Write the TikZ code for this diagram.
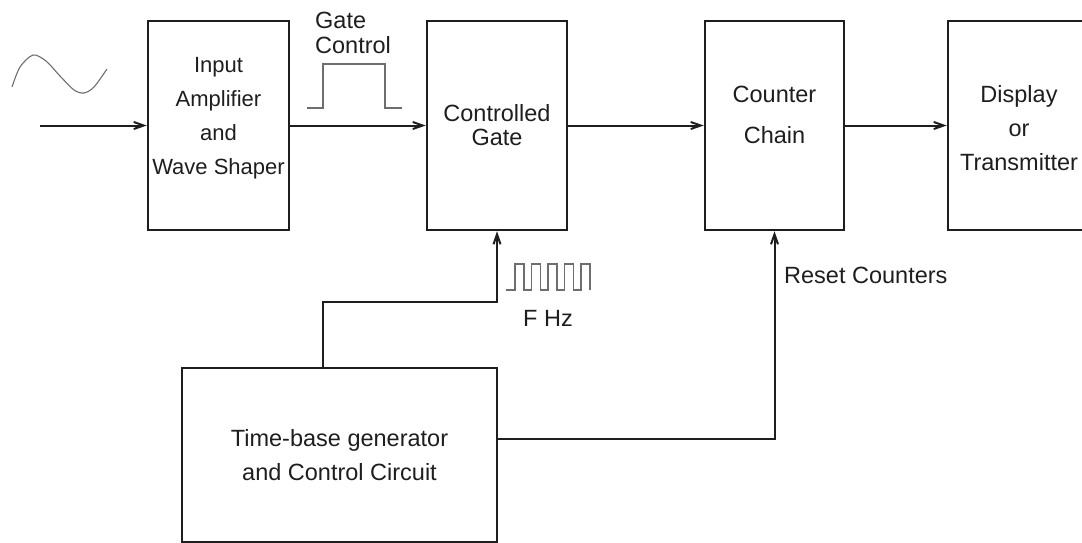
\documentclass[tikz,border=0pt]{standalone}
\usepackage{fontspec}
\setmainfont{Liberation Sans}
\usepackage{tikz}
\usetikzlibrary{arrows.meta,positioning}
\definecolor{ink}{HTML}{1E1E1E}
\definecolor{wave}{HTML}{6E6E6E}

\begin{document}
\begin{tikzpicture}[x=1pt, y=-1pt,
    block/.style={rectangle, draw=ink, line width=2.5pt, minimum height=209pt, align=center, inner sep=0pt, font=\fontsize{23.5}{34}\selectfont, text=ink},
    lbl/.style={inner sep=0pt, font=\fontsize{23.5}{34}\selectfont, text=ink},
    arrow/.style={-{Straight Barb[length=10pt,width=7pt]}, line width=2pt, color=ink},
    signal/.style={line width=1.1pt, color=wave}
]
\useasboundingbox (0,0) rectangle (1082,542);
% signal path
\node[block, minimum width=141pt, text depth=20pt, font=\fontsize{22}{34}\selectfont] (amp) at (218.5,125.5) {Input\\Amplifier\\and\\Wave Shaper};
\node[block, minimum width=140pt, right=135.5pt of amp] (gate) {Controlled\\[-10pt]Gate};
\node[block, minimum width=139pt, text depth=22pt, right=135.5pt of gate] (chain) {Counter\\[7pt]Chain};
\node[block, minimum width=142pt, text height=90pt, right=101.5pt of chain] (disp) {Display\\or\\Transmitter};
\node[block, minimum width=315pt, minimum height=174pt] (tb) at (339.5,455) {Time-base generator\\and Control Circuit};
\coordinate (src) at (40,125.5);
\draw[arrow] (src) -- (amp);
\draw[arrow] (amp) -- (gate);
\draw[arrow] (gate) -- (chain);
\draw[arrow] (chain) -- (disp);
% control lines
\draw[arrow] ([xshift=-16.5pt]tb.north) -- ++(0,-65) -| (gate.south);
\draw[arrow] ([yshift=16pt]tb.east) -| (chain.south);
% labels
\node[lbl, align=left, anchor=west] (gatectl) at (315,33) {Gate\\[-9pt]Control};
\node[lbl] (fhz) at (548,318) {F Hz};
\node[lbl, anchor=west] (reset) at (784,275) {Reset Counters};
% waveforms
\draw[signal] plot[smooth] coordinates {(12,87) (20,67) (33,55) (46,61) (60,76) (74,90) (84,93) (94,87) (107,69)};
\draw[signal] (307,108) -- (323,108) -- (323,64) -- (385,64) -- (385,108) -- (402,108);
\draw[signal] (506,290) -- (515,290)
  \foreach \k in {1,...,4} {
    -- ++(0,-26) -- ++(9,0) -- ++(0,26) -- ++(7.5,0)
  }
  -- ++(0,-26) -- ++(9,0) -- ++(0,26);
\end{tikzpicture}
\end{document}
